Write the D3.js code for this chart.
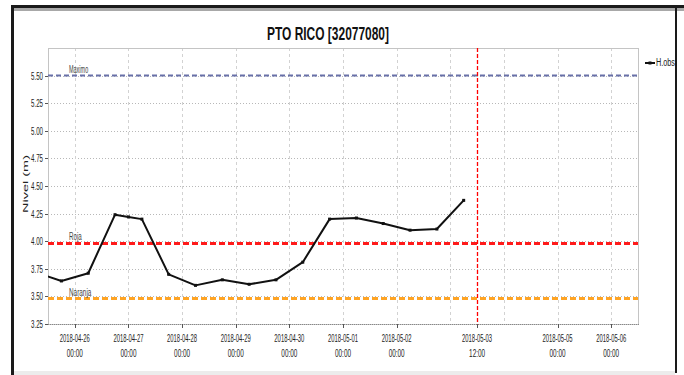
<!DOCTYPE html>
<html><head><meta charset="utf-8">
<script src="https://cdn.jsdelivr.net/npm/d3@7"></script>
<style>
html,body{margin:0;padding:0;background:#fff;}
svg{display:block;}
text{font-family:"Liberation Sans Narrow","Arial Narrow","Liberation Sans",Arial,sans-serif;}
</style></head>
<body>
<svg id="c" width="684" height="375"></svg>
<script>
// ---- data ----
const title = "PTO RICO [32077080]";
const times = ["2018-04-25 06:00","2018-04-25 18:00","2018-04-26 06:00","2018-04-26 18:00","2018-04-27 00:00","2018-04-27 06:00","2018-04-27 18:00","2018-04-28 06:00","2018-04-28 18:00","2018-04-29 06:00","2018-04-29 18:00","2018-04-30 06:00","2018-04-30 18:00","2018-05-01 06:00","2018-05-01 18:00","2018-05-02 06:00","2018-05-02 18:00","2018-05-03 06:00"];
const values = [3.72,3.64,3.71,4.24,4.22,4.20,3.70,3.60,3.65,3.61,3.65,3.81,4.20,4.21,4.16,4.10,4.11,4.37];
const seriesName = "H.obs";
const thresholdNames = ["Maximo","Roja","Naranja"];
const thresholdValues = [5.50, 3.98, 3.48];
const thresholdColors = ["#6870a8","#ff1a1a","#ffa424"];
const yTicks = [3.25,3.50,3.75,4.00,4.25,4.50,4.75,5.00,5.25,5.50];
const xTickLabels = ["2018-04-26 00:00","2018-04-27 00:00","2018-04-28 00:00","2018-04-29 00:00","2018-04-30 00:00","2018-05-01 00:00","2018-05-02 00:00","2018-05-03 12:00","2018-05-05 00:00","2018-05-06 00:00"];
const gridDays = ["2018-04-26","2018-04-27","2018-04-28","2018-04-29","2018-04-30","2018-05-01","2018-05-02","2018-05-03","2018-05-04","2018-05-05","2018-05-06"];
const nowMark = "2018-05-03 12:00";
const xDomain = ["2018-04-25 12:00","2018-05-06 12:00"];
const yDomain = [3.25, 5.75];
const yLabel = "Nivel (m)";

// ---- helpers ----
const parse = d3.timeParse("%Y-%m-%d %H:%M");
const parseDay = d3.timeParse("%Y-%m-%d");
const svg = d3.select("#c");
const L=48, R=638, T=48, B=324;
const x = d3.scaleTime().domain(xDomain.map(parse)).range([L,R]);
const y = d3.scaleLinear().domain(yDomain).range([B,T]);

function sqText(g, px, py, txt, size, width, anchor, opts={}) {
  return g.append("text").attr("x",px).attr("y",py)
    .attr("font-size",size).attr("text-anchor",anchor||"start")
    .attr("fill",opts.fill||"#222")
    .attr("font-weight",opts.weight||"normal")
    .attr("textLength",width).attr("lengthAdjust","spacingAndGlyphs")
    .text(txt);
}

// ---- frame ----
svg.append("rect").attr("x",11).attr("y",5).attr("width",673).attr("height",3).attr("fill","#1a1a1a");
svg.append("rect").attr("x",14).attr("y",8).attr("width",670).attr("height",3).attr("fill","#a8a8a8");
svg.append("rect").attr("x",11).attr("y",5).attr("width",3).attr("height",370).attr("fill","#1a1a1a");
svg.append("rect").attr("x",675).attr("y",5).attr("width",2).attr("height",368).attr("fill","#1a1a1a");
svg.append("rect").attr("x",14).attr("y",371).attr("width",661).attr("height",4).attr("fill","#ececec");

// ---- title ----
sqText(svg, 328, 40, title, 18, 122, "middle", {weight:"bold", fill:"#111"});

// ---- grid ----
const grid = svg.append("g");
grid.selectAll("line.h").data(yTicks.filter(v=>v>yDomain[0])).join("line")
  .attr("x1",L).attr("x2",R).attr("y1",d=>Math.round(y(d))+0.5).attr("y2",d=>Math.round(y(d))+0.5)
  .attr("stroke","#b8b8b8").attr("stroke-dasharray","1,2");
grid.selectAll("line.v").data(gridDays.map(parseDay)).join("line")
  .attr("x1",d=>Math.round(x(d))+0.5).attr("x2",d=>Math.round(x(d))+0.5).attr("y1",T).attr("y2",B)
  .attr("stroke","#d2d2d2").attr("stroke-dasharray","3,3");

// plot border
svg.append("rect").attr("x",L+0.5).attr("y",T+0.5).attr("width",R-L).attr("height",B-T)
  .attr("fill","none").attr("stroke","#c4c4c4");
svg.append("line").attr("x1",L).attr("x2",R+1).attr("y1",B+0.5).attr("y2",B+0.5)
  .attr("stroke","#888").attr("stroke-dasharray","1,1");

// ---- thresholds ----
const th = svg.append("g");
thresholdValues.forEach((v,i)=>{
  th.append("line").attr("x1",L).attr("x2",R).attr("y1",y(v)).attr("y2",y(v))
    .attr("stroke",thresholdColors[i]).attr("stroke-width", i===0?2:3)
    .attr("stroke-dasharray", i===0?"5,3":"6,3");
  sqText(th, 69, y(v)-3, thresholdNames[i], 10, thresholdNames[i].length*3.2, "start", {fill:"#444"});
});

// now marker
const nm = parse(nowMark);
svg.append("line").attr("x1",Math.round(x(nm))+0.5).attr("x2",Math.round(x(nm))+0.5).attr("y1",T).attr("y2",B+1)
  .attr("stroke","#ff0000").attr("stroke-width",1.3).attr("stroke-dasharray","4,2");

// ---- series ----
svg.append("defs").append("clipPath").attr("id","clip").append("rect")
  .attr("x",L).attr("y",T).attr("width",R-L).attr("height",B-T);
const pts = times.map((t,i)=>({t:parse(t), v:values[i]}));
const sg = svg.append("g").attr("clip-path","url(#clip)");
sg.append("path").datum(pts)
  .attr("d", d3.line().x(d=>x(d.t)).y(d=>y(d.v)))
  .attr("fill","none").attr("stroke","#111").attr("stroke-width",2).attr("stroke-linejoin","round");
sg.selectAll("rect.m").data(pts).join("rect")
  .attr("x",d=>x(d.t)-1.5).attr("y",d=>y(d.v)-1.5).attr("width",3).attr("height",3).attr("fill","#111");

// ---- y axis ----
const ya = svg.append("g");
yTicks.forEach(v=>{
  ya.append("line").attr("x1",L-3).attr("x2",L).attr("y1",Math.round(y(v))+0.5).attr("y2",Math.round(y(v))+0.5).attr("stroke","#555");
  sqText(ya, 43, y(v)+4, d3.format(".2f")(v), 11, 12, "end");
});
svg.append("text").attr("transform","translate(28,184) scale(0.62,1) rotate(-90)")
  .attr("text-anchor","middle").attr("font-size",13).attr("fill","#222")
  .attr("font-family","Liberation Sans, Arial, sans-serif").attr("textLength",58).attr("lengthAdjust","spacingAndGlyphs")
  .text(yLabel);

// ---- x axis ----
const xa = svg.append("g");
xTickLabels.forEach(s=>{
  const d = parse(s);
  const px = x(d);
  xa.append("line").attr("x1",Math.round(px)+0.5).attr("x2",Math.round(px)+0.5).attr("y1",B).attr("y2",B+4).attr("stroke","#555");
  const parts = s.split(" ");
  sqText(xa, px, 342, parts[0], 11, 30, "middle");
  sqText(xa, px, 357, parts[1], 11, 16, "middle");
});

// ---- legend ----
const lg = svg.append("g");
lg.append("line").attr("x1",645).attr("x2",655).attr("y1",63).attr("y2",63).attr("stroke","#111").attr("stroke-width",2);
lg.append("rect").attr("x",648.5).attr("y",61.5).attr("width",3).attr("height",3).attr("fill","#111");
sqText(lg, 656, 66, seriesName, 10, 19, "start");
</script>
</body></html>
